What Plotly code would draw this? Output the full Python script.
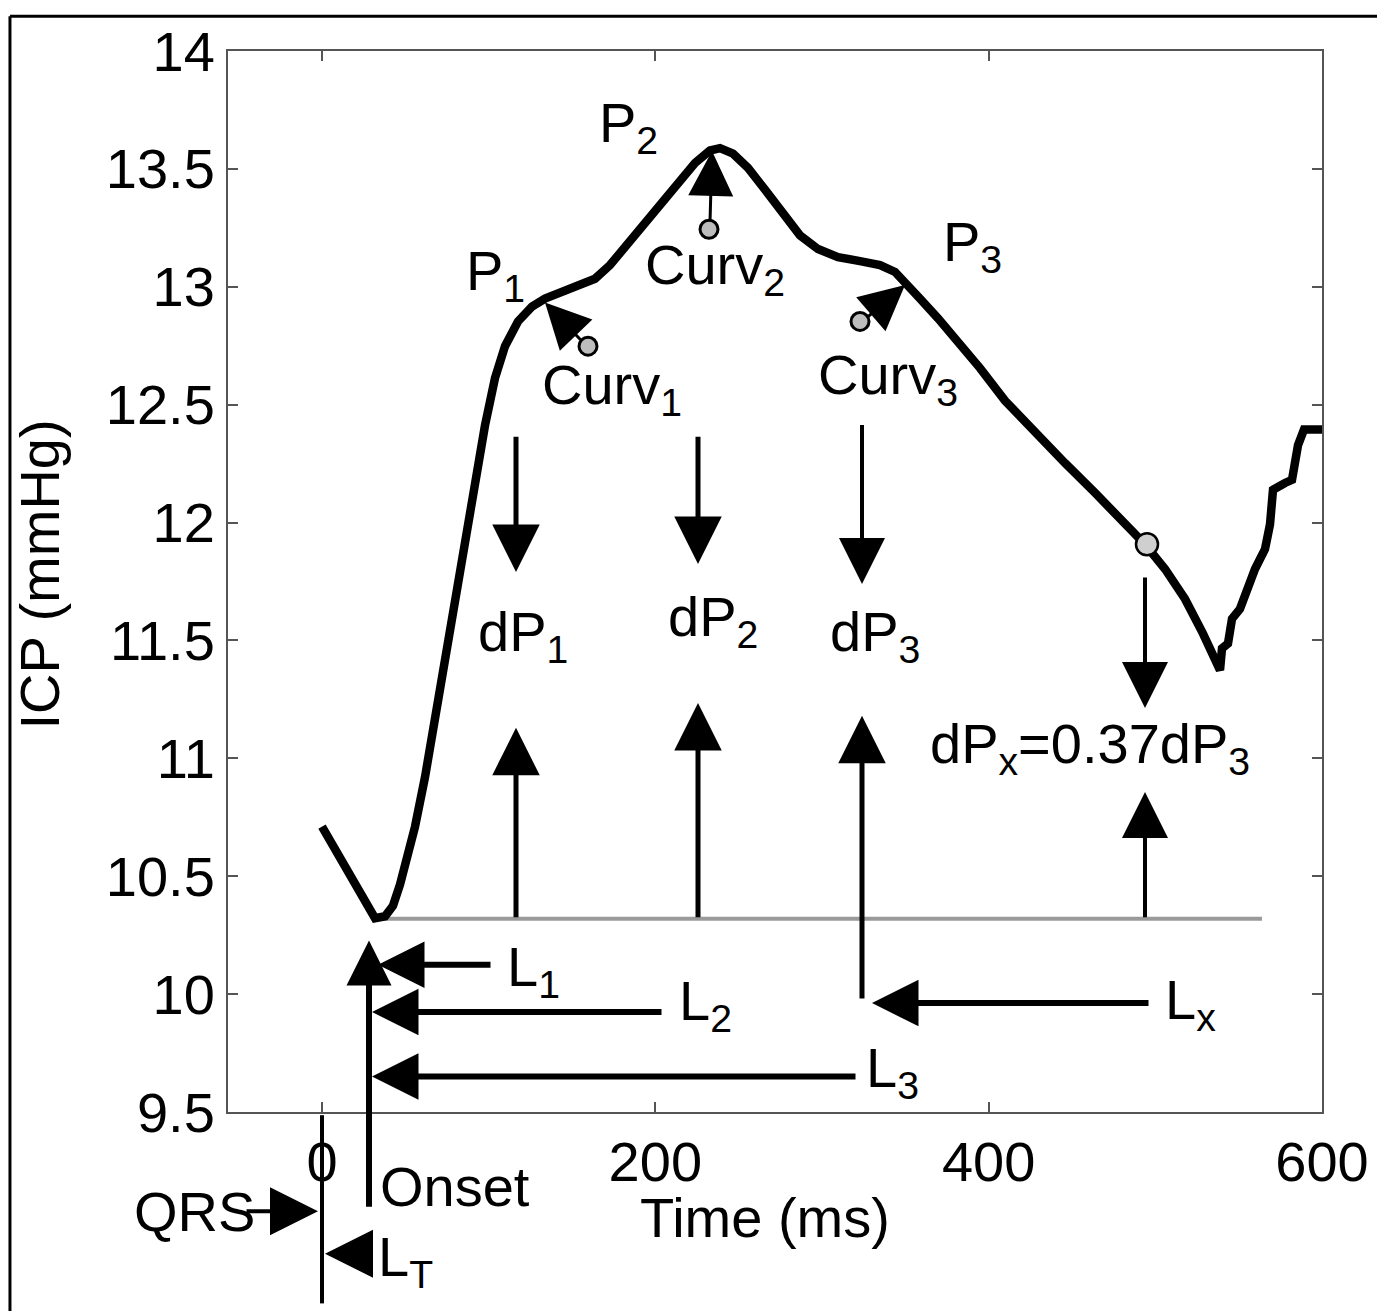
import plotly.graph_objects as go

# ---- data ----
time_ms = [0, 7.8, 15.6, 22.8, 27.6, 31.8, 37.8, 42.6, 46.8, 51.6, 55.8, 61.8, 67.8, 73.8,
           79.8, 85.8, 91.8, 97.8, 103.8, 109.8, 117.6, 126.0, 133.8, 142.8, 153.6, 163.8,
           172.8, 181.8, 192.0, 202.8, 213.6, 223.8, 232.8, 238.8, 246.6, 255.6, 265.8,
           276.0, 286.8, 297.6, 309.6, 322.8, 334.8, 343.8, 349.8, 358.8, 369.6, 381.6,
           394.8, 409.8, 427.8, 445.8, 463.8, 480.0, 493.8, 505.8, 517.8, 528.6, 538.8,
           540.0, 543.6, 546.0, 550.8, 559.8, 565.8, 568.8, 570.6, 577.8, 582.0, 585.6,
           589.2, 600.0]
icp = [10.71, 10.613, 10.513, 10.416, 10.36, 10.322, 10.33, 10.375, 10.465, 10.584,
       10.71, 10.92, 11.172, 11.424, 11.676, 11.929, 12.181, 12.412, 12.613, 12.748,
       12.853, 12.916, 12.95, 12.975, 13.0, 13.034, 13.092, 13.168, 13.261, 13.353,
       13.445, 13.525, 13.578, 13.588, 13.565, 13.504, 13.412, 13.311, 13.218, 13.16,
       13.126, 13.109, 13.092, 13.063, 13.021, 12.95, 12.866, 12.769, 12.655, 12.517,
       12.378, 12.252, 12.126, 12.013, 11.908, 11.803, 11.676, 11.529, 11.374, 11.466,
       11.487, 11.592, 11.634, 11.803, 11.887, 11.992, 12.139, 12.168, 12.181, 12.328,
       12.395, 12.395]

baseline_x = [34.8, 564.0]
baseline_y = [10.32, 10.32]

x_ticks = [0, 200, 400, 600]
x_ticktext = ["0", "200", "400", "600"]
y_ticks = [9.5, 10, 10.5, 11, 11.5, 12, 12.5, 13, 13.5, 14]
y_ticktext = ["9.5", "10", "10.5", "11", "11.5", "12", "12.5", "13", "13.5", "14"]

# feature markers
curv_x = [159.6, 232.2, 322.8]
curv_y = [12.748, 13.244, 12.853]
dpx_point_x = [495.0]
dpx_point_y = [11.908]

FONT = "Liberation Sans, Arial, sans-serif"
FS = 56

fig = go.Figure()
fig.add_trace(go.Scatter(x=baseline_x, y=baseline_y, mode="lines",
                         line=dict(color="#9a9a9a", width=4), hoverinfo="skip"))
fig.add_trace(go.Scatter(x=time_ms, y=icp, mode="lines",
                         line=dict(color="black", width=8.5), hoverinfo="skip"))

annotations = []


def arrow(tx, ty, sx, sy, w, size):
    annotations.append(dict(x=tx, y=ty, ax=sx, ay=sy, xref="x", yref="y",
                            axref="x", ayref="y", text="", showarrow=True,
                            arrowhead=2, arrowsize=size, arrowwidth=w,
                            arrowcolor="black", standoff=0, startstandoff=0))


def harrow_paper(tx, py, sx, w, size):
    annotations.append(dict(x=tx, y=py, xref="x", yref="paper", axref="x", ax=sx,
                            ayref="pixel", ay=0, text="", showarrow=True,
                            arrowhead=2, arrowsize=size, arrowwidth=w,
                            arrowcolor="black", standoff=0, startstandoff=0))


def label(x, y, txt, xref="x", yref="y", angle=0):
    annotations.append(dict(x=x, y=y, xref=xref, yref=yref, text=txt,
                            showarrow=False, textangle=angle,
                            font=dict(family=FONT, size=FS, color="black"),
                            xanchor="center", yanchor="middle"))


# dP arrows (down from above, up from baseline)
arrow(116.4, 11.79, 116.4, 12.37, 5, 1.9)
arrow(116.4, 11.13, 116.4, 10.32, 5, 1.9)
arrow(225.6, 11.824, 225.6, 12.37, 5, 1.9)
arrow(225.6, 11.235, 225.6, 10.32, 5, 1.9)
arrow(324.0, 11.739, 324.0, 12.42, 4, 2.3)
arrow(324.0, 11.181, 324.0, 9.975, 5, 1.9)
arrow(493.8, 11.214, 493.8, 11.773, 4, 2.3)
arrow(493.8, 10.857, 493.8, 10.32, 4, 2.3)

# Curv arrows
arrow(133.8, 12.933, 156.0, 12.769, 3, 3.0)
arrow(234.0, 13.576, 232.8, 13.273, 3, 3.0)
arrow(349.8, 13.008, 326.4, 12.866, 3, 3.0)

# L arrows
arrow(33.6, 10.125, 102.0, 10.125, 6, 1.55)
arrow(30.0, 9.924, 204.6, 9.924, 6, 1.55)
arrow(30.0, 9.651, 321.0, 9.651, 6, 1.55)
arrow(330.0, 9.962, 496.8, 9.962, 6, 1.55)

# Onset arrow
arrow(28.2, 10.227, 28.2, 9.092, 6, 1.5)

# QRS and LT arrows below the axis
harrow_paper(-2.4, -0.0935, -46.2, 4, 2.4)
harrow_paper(1.8, -0.1336, 30.0, 4, 2.4)

# labels
label(103.8, 13.05, "P<sub>1</sub>")
label(183.6, 13.681, "P<sub>2</sub>")
label(390.0, 13.176, "P<sub>3</sub>")
label(174.0, 12.567, "Curv<sub>1</sub>")
label(235.8, 13.076, "Curv<sub>2</sub>")
label(339.6, 12.613, "Curv<sub>3</sub>")
label(120.6, 11.521, "dP<sub>1</sub>")
label(234.6, 11.584, "dP<sub>2</sub>")
label(331.8, 11.521, "dP<sub>3</sub>")
label(460.8, 11.046, "dP<sub>x</sub>=0.37dP<sub>3</sub>")
label(126.6, 10.101, "L<sub>1</sub>")
label(229.8, 9.954, "L<sub>2</sub>")
label(342.0, 9.672, "L<sub>3</sub>")
label(520.8, 9.962, "L<sub>x</sub>")
label(79.8, -0.0701, "Onset", yref="paper")
label(49.8, -0.140, "L<sub>T</sub>", yref="paper")
label(-0.0302, -0.0935, "QRS", xref="paper", yref="paper")
label(265.8, -0.0991, "Time (ms)", yref="paper")
label(-0.172, 0.5065, "ICP (mmHg)", xref="paper", yref="paper", angle=-90)

fig.add_trace(go.Scatter(x=curv_x, y=curv_y, mode="markers", cliponaxis=False,
                         marker=dict(symbol="circle", size=18, color="#bdbdbd",
                                     line=dict(color="black", width=3)),
                         hoverinfo="skip"))
fig.add_trace(go.Scatter(x=dpx_point_x, y=dpx_point_y, mode="markers",
                         marker=dict(symbol="circle", size=22, color="#cfcfcf",
                                     line=dict(color="black", width=2.5)),
                         hoverinfo="skip"))

shapes = [
    # QRS vertical line at t=0 below the axes
    dict(type="line", xref="x", yref="paper", x0=0, x1=0, y0=-0.003, y1=-0.1804,
         line=dict(color="black", width=4)),
    # outer frame
    dict(type="line", xref="paper", yref="paper", x0=-0.1993, x1=-0.1993,
         y0=1.0327, y1=-0.19, line=dict(color="black", width=3)),
    dict(type="line", xref="paper", yref="paper", x0=-0.1993, x1=1.0558,
         y0=1.0327, y1=1.0327, line=dict(color="black", width=3)),
    dict(type="line", xref="paper", yref="paper", x0=1.0558, x1=1.0558,
         y0=1.0327, y1=-0.19, line=dict(color="black", width=3)),
]

axis_common = dict(showline=True, linecolor="#555555", linewidth=2, mirror="ticks",
                   ticks="inside", ticklen=10, tickwidth=2, tickcolor="#555555",
                   showgrid=False, zeroline=False,
                   tickfont=dict(family=FONT, size=FS, color="black"))

fig.update_layout(
    width=1377, height=1303, autosize=False,
    margin=dict(l=220, r=63, t=34, b=199),
    paper_bgcolor="white", plot_bgcolor="white",
    showlegend=False,
    xaxis=dict(range=[-56.4, 600], tickvals=x_ticks, ticktext=x_ticktext, **axis_common),
    yaxis=dict(range=[9.5, 14], tickvals=y_ticks, ticktext=y_ticktext, **axis_common),
    annotations=annotations,
    shapes=shapes,
)

fig.write_html("out.html")
